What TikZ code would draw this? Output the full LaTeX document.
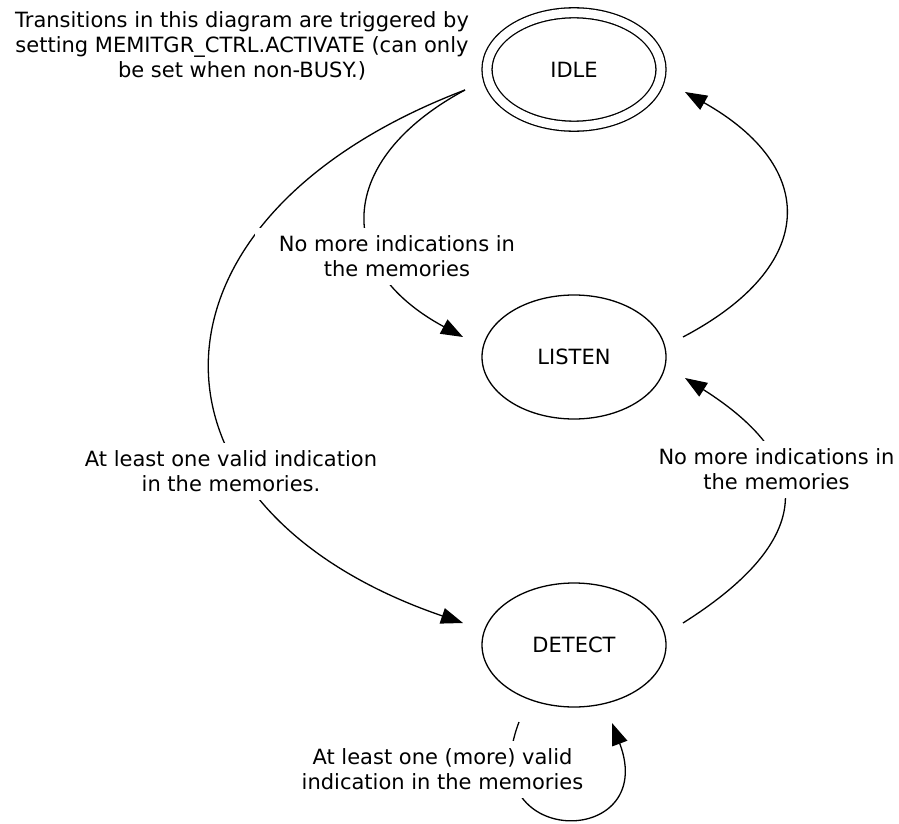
\documentclass[tikz,border=0pt]{standalone}
\usepackage{fontspec}
\setmainfont{DejaVu Sans}
\usetikzlibrary{arrows.meta,calc,shapes.geometric}
\begin{document}
\begin{tikzpicture}[x=1pt,y=-1pt,
  every node/.style={font=\fontsize{21}{25.2}\selectfont},
  state/.style={draw, ellipse, line width=1.3pt, minimum width=184pt, minimum height=124pt, inner sep=0pt},
  startstate/.style={draw, ellipse, line width=1.3pt, double, double distance=8.7pt, minimum width=174pt, minimum height=113.4pt, inner sep=0pt},
  trans/.style={line width=1.3pt, -{Triangle[length=22pt,width=16pt]}},
  lbl/.style={fill=white, align=center, inner xsep=6pt, inner ysep=8pt}]
\useasboundingbox (0,0) rectangle (899,824);

% states
\node[startstate] (idle) at (574,69.5) {IDLE};
\node[state] (listen) at (574,357) {LISTEN};
\node[state] (detect) at (574,645) {DETECT};

% note
\node[align=center, inner sep=0pt] (note) at (242,46) {Transitions in this diagram are triggered by\\ setting MEMITGR\_CTRL.ACTIVATE (can only\\ be set when non-BUSY.)};

% transitions
\draw[trans] ($(idle)+(-109,20.5)$) .. controls +(-130,70) and +(-130,-70) .. ($(listen)+(-111,-20)$);
\draw[trans] ($(idle)+(-109,20.5)$) .. controls +(-339,129) and +(-336,-115) .. ($(detect)+(-111,-22)$);
\draw[trans] ($(listen)+(109,-20)$) .. controls +(135.5,-71.3) and +(133.5,75.2) .. ($(idle)+(111,22.5)$);
\draw[trans] ($(detect)+(109,-22)$) .. controls +(133,-84) and +(131,83) .. ($(listen)+(111,21)$);
\draw[trans] ($(detect)+(-55,77)$) .. controls +(-49,128) and +(48,127) .. ($(detect)+(38,78)$);

% labels
\node[lbl, inner xsep=24pt] (la) at (397,256.5) {No more indications in\\ the memories};
\node[lbl] (lb) at (231,471.5) {At least one valid indication\\ in the memories.};
\node[lbl] (ld) at (776.5,469.5) {No more indications in\\ the memories};
\node[lbl] (le) at (442.5,769.5) {At least one (more) valid\\ indication in the memories};
\end{tikzpicture}
\end{document}
